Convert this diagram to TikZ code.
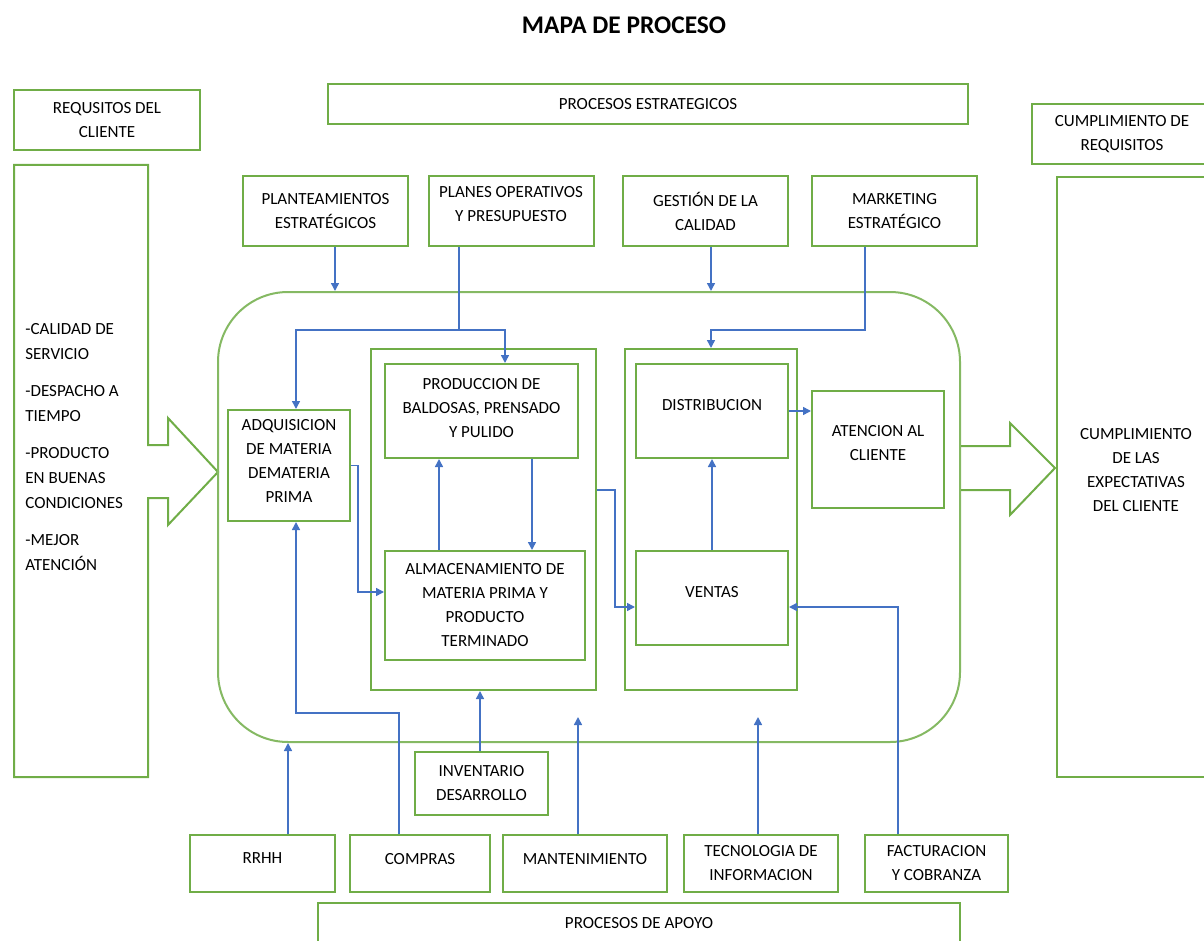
\documentclass[tikz,border=0pt]{standalone}
\usepackage{fontspec}
\setmainfont{Carlito}
\usetikzlibrary{arrows.meta,positioning}
\definecolor{boxgreen}{HTML}{70AD47}
\definecolor{linkblue}{HTML}{4472C4}

\begin{document}
\begin{tikzpicture}[x=0.5pt,y=-0.5pt,
  proc/.style={draw=boxgreen,line width=1pt,inner sep=0pt,align=center,font=\fontsize{8.5}{12}\selectfont},
  group/.style={draw=boxgreen,line width=1pt,inner sep=0pt},
  core/.style={draw=boxgreen!85,line width=1pt,rounded corners=35pt,inner sep=0pt},
  bigarrow/.style={draw=boxgreen,line width=1pt,line join=miter},
  link/.style={-{Triangle[length=4pt,width=4pt]},draw=linkblue,line width=0.75pt}
  ]
  \useasboundingbox (0,0) rectangle (1204,941);
  \node[font=\fontsize{12.7}{15}\selectfont\bfseries] (title) at (624,25) {MAPA DE PROCESO};
  % cabecera
  \node[proc,minimum width=93pt,minimum height=30pt] (reqcli) at (107,120) {REQUSITOS DEL\\CLIENTE};
  \node[proc,minimum width=320pt,minimum height=20pt] (estrat) at (648,104) {PROCESOS ESTRATEGICOS};
  \node[proc,minimum width=90pt,minimum height=30pt] (cumpreq) at (1122,134) {CUMPLIMIENTO DE\\REQUISITOS};
  % entrada y salida
  \draw[bigarrow] (148,165) -- (148,445) -- (168,445) -- (168,418) -- (218,472) -- (168,525)
    -- (168,498) -- (148,498) -- (148,777) -- (14,777) -- (14,165) -- cycle;
  \node[anchor=north west,inner sep=0pt,align=left,font=\fontsize{8.5}{12.4}\selectfont] (needs) at (25,323)
    {-CALIDAD DE\\SERVICIO\\[6.3pt]-DESPACHO A\\TIEMPO\\[6.3pt]-PRODUCTO\\EN BUENAS\\CONDICIONES\\[6.3pt]-MEJOR\\ATENCIÓN};
  \node[proc,minimum width=79pt,minimum height=300pt,text depth=7pt] (cumpexp) at (1136,477)
    {CUMPLIMIENTO\\DE LAS\\EXPECTATIVAS\\DEL CLIENTE};
  % estrategicos
  \node[proc,minimum width=82.5pt,minimum height=35pt] (plant) at (325.5,211) {PLANTEAMIENTOS\\ESTRATÉGICOS};
  \node[proc,minimum width=82.5pt,minimum height=35pt,text depth=7pt] (planes) at (511,211) {PLANES OPERATIVOS\\Y PRESUPUESTO};
  \node[proc,minimum width=82.5pt,minimum height=35pt] (gestion) at (705.5,211) {GESTIÓN DE LA\\CALIDAD};
  \node[proc,minimum width=82.5pt,minimum height=35pt] (marketing) at (894.5,211) {MARKETING\\ESTRATÉGICO};
  % procesos clave
  \node[core,minimum width=371pt,minimum height=225pt] (core) at (589,517) {};
  \node[group,minimum width=112.5pt,minimum height=170.5pt] (midgrp) at (483.5,519.5) {};
  \node[group,minimum width=86pt,minimum height=170.5pt] (rgtgrp) at (711,519.5) {};
  \node[proc,minimum width=61pt,minimum height=55.5pt,text depth=4.5pt] (adq) at (289,465.5) {ADQUISICION\\DE MATERIA\\DEMATERIA\\PRIMA};
  \node[proc,minimum width=96.5pt,minimum height=47pt,text depth=3pt] (prod) at (481.5,411) {PRODUCCION DE\\BALDOSAS, PRENSADO\\Y PULIDO};
  \node[proc,minimum width=100pt,minimum height=54.5pt] (alm) at (485,605.5) {ALMACENAMIENTO DE\\MATERIA PRIMA Y\\PRODUCTO\\TERMINADO};
  \node[proc,minimum width=76pt,minimum height=47pt,text depth=6pt] (distr) at (712,411) {DISTRIBUCION};
  \node[proc,minimum width=76pt,minimum height=47pt,text depth=6pt] (ventas) at (712,598) {VENTAS};
  \node[proc,minimum width=66pt,minimum height=58.5pt,text depth=6.5pt] (atencion) at (878,449.5) {ATENCION AL\\CLIENTE};
  \draw[bigarrow] (core.east |- 0,446) -- (1010,446) -- (1010,423) -- (1055,468) -- (1010,515)
    -- (1010,490) -- (core.east |- 0,490);
  % apoyo
  \node[proc,minimum width=66.5pt,minimum height=31.5pt] (invent) at (481.5,783.5) {INVENTARIO\\DESARROLLO};
  \node[proc,minimum width=72.5pt,minimum height=28.5pt,text depth=5pt] (rrhh) at (262.5,863.5) {RRHH};
  \node[proc,minimum width=70pt,minimum height=28.5pt,text depth=5pt] (compras) at (420,863.5) {COMPRAS};
  \node[proc,minimum width=82pt,minimum height=28.5pt,text depth=5pt] (mant) at (585,863.5) {MANTENIMIENTO};
  \node[proc,minimum width=77pt,minimum height=28.5pt] (tecno) at (761,863.5) {TECNOLOGIA DE\\INFORMACION};
  \node[proc,minimum width=71.5pt,minimum height=28.5pt] (factur) at (936.5,863.5) {FACTURACION\\Y COBRANZA};
  \node[proc,minimum width=321pt,minimum height=20pt] (apoyo) at (639,923) {PROCESOS DE APOYO};
  % conexiones
  \coordinate (pj) at (459,330);
  \coordinate (mj) at (865,330);
  \coordinate (mtip) at (578,717);
  \coordinate (ttip) at (758,717);
  \draw[link] (plant.south -| 335,0) -- (core.north -| 335,0);
  \draw[draw=linkblue,line width=0.75pt] (planes.south -| pj) -- (pj);
  \draw[link] (pj) -| (adq.north -| 296,0);
  \draw[link] (pj) -| (prod.north -| 505,0);
  \draw[link] (gestion.south -| 711,0) -- (core.north -| 711,0);
  \draw[link] (marketing.south -| mj) -- (mj) -| (rgtgrp.north);
  \draw[link] (alm.north -| 439,0) -- (prod.south -| 439,0);
  \draw[link] (prod.south -| 532,0) -- (alm.north -| 532,0);
  \draw[link] (adq.east) -| (358,592) -- (alm.west |- 358,592);
  \draw[link] (midgrp.east |- 0,490) -| (615,607) -- (ventas.west |- 0,607);
  \draw[link] (ventas.north) -- (distr.south);
  \draw[link] (distr.east) -- (atencion.west |- distr.east);
  \draw[link] (factur.north -| 898,0) |- (ventas.east |- 0,607);
  \draw[link] (rrhh.north -| 288,0) -- (core.south -| 288,0);
  \draw[link] (compras.north -| 399,0) |- (296,713) -- (adq.south -| 296,0);
  \draw[link] (invent.north -| 480,0) -- (midgrp.south -| 480,0);
  \draw[link] (mant.north -| mtip) -- (mtip);
  \draw[link] (tecno.north -| ttip) -- (ttip);
\end{tikzpicture}
\end{document}
